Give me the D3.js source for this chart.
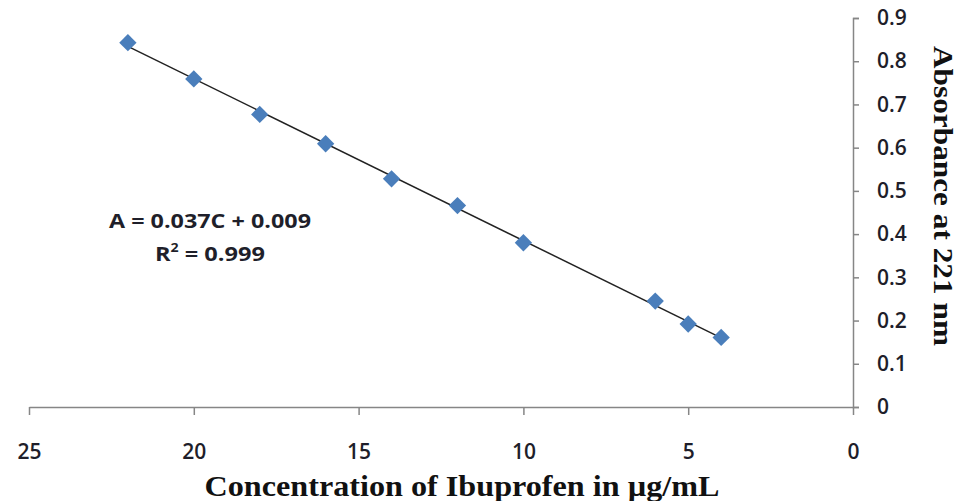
<!DOCTYPE html>
<html><head><meta charset="utf-8">
<script src="https://cdn.jsdelivr.net/npm/d3@7"></script>
<style>body{margin:0;background:#fff}svg{display:block}</style>
</head><body>
<svg id="c" width="961" height="501"></svg>
<script>
const concentrations = [22, 20, 18, 16, 14, 12, 10, 6, 5, 4];
const absorbances = [0.843, 0.759, 0.677, 0.609, 0.528, 0.466, 0.38, 0.245, 0.192, 0.161];
const xTicks = [25, 20, 15, 10, 5, 0];
const yTicks = [0, 0.1, 0.2, 0.3, 0.4, 0.5, 0.6, 0.7, 0.8, 0.9];
const equationLines = ["A = 0.037C + 0.009", "R² = 0.999"];
const xTitle = "Concentration of Ibuprofen in µg/mL";
const yTitle = "Absorbance at 221 nm";

const svg = d3.select("#c");
const x = d3.scaleLinear().domain([25, 0]).range([29, 853]);
const y = d3.scaleLinear().domain([0, 0.9]).range([407, 18]);
const axisColor = "#868686";
const tickFont = "'Open Sans', 'Noto Sans', sans-serif";

// X axis
const gx = svg.append("g").attr("transform", `translate(0,${y(0)})`)
  .call(d3.axisBottom(x).tickValues(xTicks).tickSize(8).tickSizeOuter(0).tickPadding(29).tickFormat(d3.format("d")));
gx.select(".domain").attr("stroke", axisColor).attr("stroke-width", 1.5);
gx.selectAll(".tick line").attr("stroke", axisColor).attr("stroke-width", 1.5);
gx.selectAll(".tick text").style("font-family", tickFont).style("font-size", "21px").style("font-weight", 600).attr("fill", "#1e1e2a");

// Y axis (right side)
const gy = svg.append("g").attr("transform", `translate(${x(0)},0)`)
  .call(d3.axisRight(y).tickValues(yTicks).tickSize(6).tickSizeOuter(6).tickPadding(18).tickFormat(d => d === 0 ? "0" : d3.format(".1f")(d)));
gy.select(".domain").attr("stroke", axisColor).attr("stroke-width", 1.5);
gy.selectAll(".tick line").attr("stroke", axisColor).attr("stroke-width", 1.5);
gy.selectAll(".tick text").style("font-family", tickFont).style("font-size", "21px").style("font-weight", 600).attr("fill", "#1e1e2a");

// Linear regression from data
const n = concentrations.length;
const mx = d3.mean(concentrations), my = d3.mean(absorbances);
let sxy = 0, sxx = 0;
for (let i = 0; i < n; i++) { sxy += (concentrations[i]-mx)*(absorbances[i]-my); sxx += (concentrations[i]-mx)**2; }
const slope = sxy / sxx, intercept = my - slope * mx;
const xMin = d3.min(concentrations), xMax = d3.max(concentrations);
svg.append("line")
  .attr("x1", x(xMax)).attr("y1", y(slope*xMax+intercept))
  .attr("x2", x(xMin)).attr("y2", y(slope*xMin+intercept))
  .attr("stroke", "#222").attr("stroke-width", 1.5);

// Points
const sym = d3.symbol().type(d3.symbolSquare).size(150);
svg.append("g").selectAll("path").data(concentrations).join("path")
  .attr("d", sym)
  .attr("transform", (d, i) => `translate(${x(d)},${y(absorbances[i])}) rotate(45)`)
  .attr("fill", "#4a7ebb");

// Equation
svg.append("text").attr("x", 210).attr("y", 228).attr("text-anchor", "middle")
  .attr("font-family", tickFont).attr("font-weight", "bold").attr("font-size", 20).attr("fill", "#1f1f2a")
  .attr("textLength", 202).attr("lengthAdjust", "spacingAndGlyphs")
  .text(equationLines[0]);
const r2 = svg.append("text").attr("x", 210).attr("y", 261).attr("text-anchor", "middle")
  .attr("font-family", tickFont).attr("font-weight", "bold").attr("font-size", 20).attr("fill", "#1f1f2a")
  .attr("textLength", 110).attr("lengthAdjust", "spacingAndGlyphs");
r2.append("tspan").text("R");
r2.append("tspan").attr("font-size", 12).attr("dy", -9).text("2");
r2.append("tspan").attr("dy", 9).text(" = 0.999");

// Axis titles
svg.append("text").attr("x", 462).attr("y", 496).attr("text-anchor", "middle")
  .attr("font-family", "'Liberation Serif', 'DejaVu Serif', serif").attr("font-weight", "bold").attr("font-size", 30).attr("fill", "#111")
  .attr("textLength", 515).attr("lengthAdjust", "spacingAndGlyphs")
  .text(xTitle);
svg.append("text").attr("transform", "translate(934,196) rotate(90)").attr("text-anchor", "middle")
  .attr("font-family", "'Liberation Serif', 'DejaVu Serif', serif").attr("font-weight", "bold").attr("font-size", 27).attr("fill", "#111")
  .attr("textLength", 300).attr("lengthAdjust", "spacingAndGlyphs")
  .text(yTitle);
</script>
</body></html>
